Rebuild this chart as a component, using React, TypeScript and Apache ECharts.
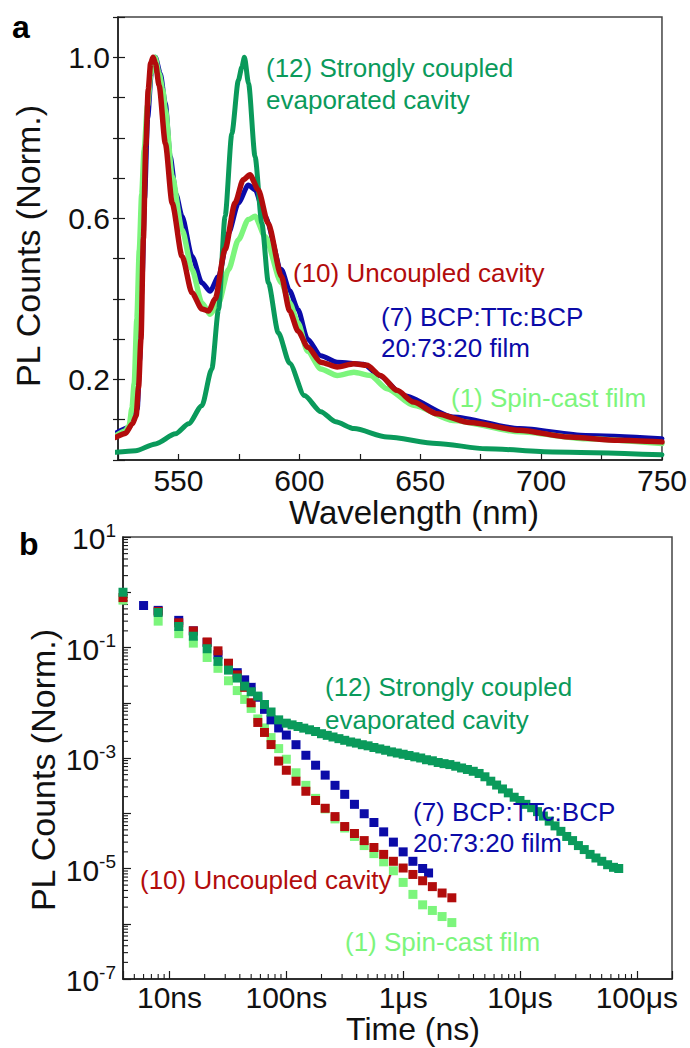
import React, { useEffect, useRef } from 'react';
import * as echarts from 'echarts';

// ---------- Panel a : PL spectra (wavelength nm, normalised counts) ----------
const SPEC_SPIN_CAST: [number, number][] = [
  [524, 0.06], [528, 0.072], [529.6, 0.085], [530.8, 0.13], [531.7, 0.19], [532.8, 0.35], [533.8, 0.52],
  [534.8, 0.66], [535.8, 0.77], [537.2, 0.88], [538.6, 0.96], [540.3, 1.0], [542, 0.96], [543.5, 0.92],
  [544.6, 0.869], [547.4, 0.704], [551.5, 0.572], [555.6, 0.473], [559.7, 0.39], [563.1, 0.362],
  [566.6, 0.39], [570.7, 0.473], [574.8, 0.547], [578.9, 0.597], [581.7, 0.605], [585.8, 0.555],
  [592.6, 0.44], [596, 0.39], [599.4, 0.341], [603.4, 0.27], [608.9, 0.226], [615.7, 0.21], [622.6, 0.218],
  [629.4, 0.21], [636.3, 0.177], [647.2, 0.136], [663.6, 0.098], [691, 0.07], [718.4, 0.053], [750, 0.041],
];
const SPEC_BCP_FILM: [number, number][] = [
  [524, 0.066], [529.6, 0.081], [531.5, 0.1], [533, 0.127], [534, 0.25], [535, 0.45], [536, 0.65],
  [537.3, 0.85], [538.8, 0.96], [540.5, 1.0], [542.5, 0.96], [544.6, 0.885], [546.6, 0.753], [549, 0.66],
  [551.5, 0.605], [555.6, 0.506], [559.7, 0.44], [563.1, 0.419], [566.6, 0.456], [570.7, 0.563],
  [574.8, 0.638], [578.9, 0.683], [581.7, 0.671], [585.8, 0.605], [592.6, 0.473], [596, 0.42],
  [599.4, 0.374], [603.4, 0.3], [608.9, 0.259], [615.7, 0.243], [626.6, 0.238], [633, 0.21], [643.1, 0.16],
  [663.6, 0.107], [691, 0.078], [718.4, 0.061], [750, 0.053],
];
const SPEC_STRONG: [number, number][] = [
  [524, 0.019], [532.3, 0.023], [540.5, 0.04], [548.8, 0.065], [554.2, 0.09], [559.7, 0.135], [563.8, 0.226],
  [566.6, 0.374], [569.3, 0.605], [572.1, 0.811], [574.8, 0.943], [576.2, 0.975], [577.3, 1.0], [579, 0.935],
  [581.7, 0.753], [584.5, 0.588], [587.2, 0.44], [591.3, 0.316], [596, 0.24], [602.1, 0.16], [608.9, 0.12],
  [615, 0.095], [622.6, 0.078], [636.3, 0.057], [656.8, 0.041], [677.4, 0.028], [704.8, 0.02], [750, 0.013],
];
const SPEC_UNCOUPLED: [number, number][] = [
  [524, 0.056], [528, 0.066], [531, 0.09], [532.5, 0.11], [533.5, 0.18], [534.5, 0.3], [535.5, 0.55],
  [536.5, 0.78], [537.5, 0.92], [538.5, 0.985], [539.5, 1.0], [540.5, 0.985], [542, 0.93], [544.6, 0.786],
  [547.4, 0.638], [551.5, 0.506], [555.6, 0.415], [559.7, 0.375], [562.5, 0.37], [565.2, 0.4], [569.3, 0.523],
  [573.4, 0.638], [576.8, 0.696], [579.6, 0.708], [583, 0.671], [587.1, 0.588], [592.6, 0.456], [596, 0.37],
  [599.5, 0.32], [603.5, 0.28], [608.9, 0.243], [615.7, 0.231], [622.6, 0.239], [628, 0.235], [633.5, 0.21],
  [640.4, 0.173], [647.2, 0.144], [656.8, 0.115], [670.5, 0.093], [691, 0.074], [711.6, 0.057], [732, 0.049],
  [750, 0.045],
];

// ---------- Panel b : PL decay (time ns, normalised counts) ----------
const DECAY_SPIN_CAST: [number, number][] = [
  [4, 0.72], [8, 0.3], [12, 0.178], [16, 0.12], [21, 0.066], [26, 0.042], [32, 0.025], [38, 0.0166],
  [44, 0.0115], [50, 0.0079], [57, 0.0051], [65, 0.0035], [74, 0.00234], [86, 0.00148], [100, 0.00095],
  [121, 0.00054], [147, 0.00032], [178, 0.000186], [215, 0.00012], [261, 7.9e-5], [316, 5.4e-5],
  [383, 3.8e-5], [464, 2.6e-5], [562, 1.86e-5], [681, 1.32e-5], [825, 9.1e-6], [1000, 5.6e-6],
  [1212, 3.4e-6], [1468, 2.2e-6], [1778, 1.74e-6], [2154, 1.35e-6], [2610, 1.05e-6],
];
const DECAY_BCP_FILM: [number, number][] = [
  [6, 0.575], [8, 0.47], [12, 0.31], [16, 0.2], [21, 0.123], [26, 0.074], [32, 0.048], [38, 0.035],
  [44, 0.026], [50, 0.019], [57, 0.0126], [65, 0.0076], [74, 0.0049], [86, 0.0035], [100, 0.0026],
  [121, 0.00174], [147, 0.00112], [178, 0.00074], [215, 0.00049], [261, 0.00032], [316, 0.00022],
  [383, 0.000145], [464, 9.8e-5], [562, 6.8e-5], [681, 4.6e-5], [825, 3.0e-5], [1000, 2.0e-5],
  [1212, 1.35e-5], [1468, 1.0e-5], [1650, 8.3e-6],
];
const DECAY_UNCOUPLED: [number, number][] = [
  [4, 0.8], [8, 0.45], [12, 0.28], [16, 0.2], [21, 0.126], [26, 0.087], [32, 0.052], [38, 0.032],
  [44, 0.019], [50, 0.01], [57, 0.0044], [65, 0.0029], [74, 0.00175], [86, 0.00088], [100, 0.0006],
  [121, 0.00038], [147, 0.00025], [178, 0.00017], [215, 0.000123], [261, 8.7e-5], [316, 5.75e-5],
  [383, 4.3e-5], [464, 3.2e-5], [562, 2.4e-5], [681, 1.8e-5], [825, 1.35e-5], [1000, 1.02e-5],
  [1212, 7.8e-6], [1468, 6.0e-6], [1778, 4.7e-6], [2154, 3.6e-6], [2610, 2.95e-6],
];
const DECAY_STRONG: [number, number][] = [
  [4, 1.0], [8, 0.43], [12, 0.24], [16, 0.16], [21, 0.095], [26, 0.056], [32, 0.039], [38, 0.028],
  [44, 0.02], [50, 0.0158], [57, 0.0132], [65, 0.0093], [74, 0.0068], [86, 0.0049],
  [100, 4.27e-3], [112, 3.98e-3], [126, 3.72e-3], [141, 3.47e-3], [158, 3.24e-3], [178, 3.02e-3],
  [200, 2.75e-3], [224, 2.57e-3], [251, 2.4e-3], [282, 2.24e-3], [316, 2.09e-3], [355, 1.95e-3],
  [398, 1.86e-3], [447, 1.74e-3], [501, 1.66e-3], [562, 1.55e-3], [631, 1.46e-3], [708, 1.38e-3],
  [794, 1.29e-3], [891, 1.23e-3], [1000, 1.17e-3], [1122, 1.11e-3], [1259, 1.05e-3], [1413, 1.0e-3],
  [1585, 9.3e-4], [1778, 8.9e-4], [1995, 8.3e-4], [2239, 7.9e-4], [2512, 7.6e-4], [2818, 7.1e-4],
  [3162, 6.6e-4], [3548, 6.2e-4], [3981, 5.75e-4], [4467, 5.25e-4], [5012, 4.57e-4], [5623, 3.8e-4],
  [6310, 3.24e-4], [7079, 2.75e-4], [7943, 2.34e-4], [8913, 1.95e-4], [10000, 1.7e-4], [11220, 1.45e-4],
  [12589, 1.26e-4], [14125, 1.07e-4], [15849, 8.9e-5], [17783, 7.2e-5], [19953, 5.9e-5], [22387, 4.7e-5],
  [25119, 3.8e-5], [28184, 3.2e-5], [31623, 2.6e-5], [35481, 2.2e-5], [39811, 1.8e-5], [44668, 1.55e-5],
  [50119, 1.35e-5], [56234, 1.17e-5], [63096, 1.05e-5], [70000, 1.0e-5],
];

// ---------- tick labels ----------
const TOP_Y_LABELS = [0.2, 0.6, 1.0];
const TOP_X_LABELS = [550, 600, 650, 700, 750];
const BOTTOM_X_LABELS: Record<number, string> = { 1: '10ns', 2: '100ns', 3: '1μs', 4: '10μs', 5: '100μs' };
const BOTTOM_Y_LABEL_EXPS = [1, -1, -3, -5, -7];

const FONT = "'Liberation Sans', Arial, Helvetica, sans-serif";
const C_DARK = '#0a9a5b';
const C_LIGHT = '#7cf57c';
const C_BLUE = '#0b0ba8';
const C_RED = '#b20c0c';
const AXC = '#1a1a1a';
const TICK_FONT = 30;

function minorTickValues(lo: number, hi: number, fromExp: number, toExp: number): number[] {
  const out: number[] = [];
  for (let e = fromExp; e <= toExp; e++) {
    for (let m = 2; m <= 9; m++) {
      const v = m * Math.pow(10, e);
      if (v > lo && v < hi) out.push(v);
    }
  }
  return out;
}

function txt(text: string, x: number, y: number, color: string, size: number, extra: any = {}) {
  return {
    type: 'text',
    x,
    y,
    silent: true,
    z: 100,
    ...extra,
    style: {
      text,
      fill: color,
      fontSize: size,
      fontFamily: FONT,
      fontWeight: extra.fontWeight || 'normal',
      align: extra.align || 'left',
      textAlign: extra.align || 'left',
      verticalAlign: 'middle',
      textVerticalAlign: 'middle',
    },
  };
}

export default function App() {
  const ref = useRef<HTMLDivElement>(null);
  useEffect(() => {
    document.body.style.margin = '0';
    const chart = echarts.init(ref.current!, undefined, { renderer: 'svg' });

    const X_MIN_B = 4;
    const X_MAX_B = 200000;
    const Y_MIN_B = 1e-7;
    const Y_MAX_B = 10;
    const xMinor = minorTickValues(X_MIN_B, X_MAX_B, 0, 5).map((t) => [t, Y_MIN_B]);
    const yMinor = minorTickValues(Y_MIN_B, Y_MAX_B, -7, 0).map((v) => [X_MIN_B, v]);

    const lineSeries = (name: string, data: [number, number][], color: string, width: number) => ({
      name,
      type: 'line',
      xAxisIndex: 0,
      yAxisIndex: 0,
      data,
      showSymbol: false,
      smooth: 0.25,
      smoothMonotone: 'x',
      lineStyle: { color, width, cap: 'round', join: 'round' },
      silent: true,
    });
    const scatterSeries = (name: string, data: [number, number][], color: string) => ({
      name,
      type: 'scatter',
      xAxisIndex: 1,
      yAxisIndex: 2,
      data,
      symbol: 'rect',
      symbolSize: 9,
      itemStyle: { color, opacity: 1 },
      silent: true,
    });

    const option: any = {
      animation: false,
      textStyle: { fontFamily: FONT },
      grid: [
        { left: 118, top: 17, width: 549, height: 443, show: true, borderColor: '#444', borderWidth: 1.5, backgroundColor: 'transparent' },
        { left: 123, top: 537, width: 549, height: 442, show: true, borderColor: '#444', borderWidth: 1.5, backgroundColor: 'transparent' },
      ],
      xAxis: [
        {
          gridIndex: 0,
          type: 'value',
          min: 525,
          max: 750,
          interval: 25,
          axisLine: { show: true, onZero: false, lineStyle: { color: AXC, width: 1.5 } },
          axisTick: { show: true, inside: true, length: 6, lineStyle: { color: AXC, width: 1.2 } },
          axisLabel: {
            fontSize: TICK_FONT,
            lineHeight: 24,
            color: '#111',
            margin: 8,
            fontFamily: FONT,
            formatter: (v: number) => (TOP_X_LABELS.some((l) => Math.abs(l - v) < 1e-6) ? String(Math.round(v)) : ''),
          },
          splitLine: { show: false },
        },
        {
          gridIndex: 1,
          type: 'log',
          logBase: 10,
          min: X_MIN_B,
          max: X_MAX_B,
          axisLine: { show: true, onZero: false, lineStyle: { color: AXC, width: 1.5 } },
          axisTick: { show: true, inside: true, length: 8, lineStyle: { color: AXC, width: 1.2 } },
          axisLabel: {
            fontSize: TICK_FONT,
            lineHeight: 24,
            color: '#111',
            margin: 6,
            fontFamily: FONT,
            formatter: (v: number) => {
              const e = Math.log10(v);
              const r = Math.round(e);
              if (Math.abs(e - r) > 1e-6) return '';
              return BOTTOM_X_LABELS[r] || '';
            },
          },
          splitLine: { show: false },
        },
      ],
      yAxis: [
        {
          gridIndex: 0,
          type: 'value',
          position: 'left',
          min: 0,
          max: 1.1,
          interval: 0.1,
          axisLine: { show: true, onZero: false, lineStyle: { color: AXC, width: 1.5 } },
          axisTick: { show: true, inside: true, length: 7, lineStyle: { color: AXC, width: 1.2 } },
          axisLabel: {
            fontSize: TICK_FONT,
            color: '#111',
            margin: 8,
            fontFamily: FONT,
            formatter: (v: number) => {
              const hit = TOP_Y_LABELS.find((l) => Math.abs(l - v) < 1e-6);
              return hit !== undefined ? hit.toFixed(1) : '';
            },
          },
          splitLine: { show: false },
        },
        {
          gridIndex: 0,
          type: 'value',
          position: 'left',
          offset: 0,
          min: 0,
          max: 1.1,
          interval: 0.1,
          axisLine: { show: false, onZero: false },
          axisTick: { show: true, inside: false, length: 5, lineStyle: { color: AXC, width: 1.2 } },
          axisLabel: { show: false },
          splitLine: { show: false },
        },
        {
          gridIndex: 1,
          type: 'log',
          logBase: 10,
          position: 'left',
          min: Y_MIN_B,
          max: Y_MAX_B,
          splitNumber: 8,
          axisLine: { show: true, onZero: false, lineStyle: { color: AXC, width: 1.5 } },
          axisTick: { show: true, inside: true, length: 8, lineStyle: { color: AXC, width: 1.2 } },
          axisLabel: {
            color: '#111',
            margin: 7,
            fontFamily: FONT,
            formatter: (v: number) => {
              const e = Math.log10(v);
              const r = Math.round(e);
              if (Math.abs(e - r) > 1e-6) return '';
              if (BOTTOM_Y_LABEL_EXPS.indexOf(r) < 0) return '';
              return '{b|10}{s|' + r + '}';
            },
            rich: {
              b: { fontSize: TICK_FONT, fontFamily: FONT, color: '#111', verticalAlign: 'bottom', lineHeight: 33 },
              s: { fontSize: 19, fontFamily: FONT, color: '#111', verticalAlign: 'top', lineHeight: 20 },
            },
          },
          splitLine: { show: false },
        },
      ],
      series: [
        lineSeries('(7) BCP:TTc:BCP 20:73:20 film', SPEC_BCP_FILM, C_BLUE, 5),
        lineSeries('(1) Spin-cast film', SPEC_SPIN_CAST, C_LIGHT, 5.5),
        lineSeries('(12) Strongly coupled evaporated cavity', SPEC_STRONG, C_DARK, 5),
        lineSeries('(10) Uncoupled cavity', SPEC_UNCOUPLED, C_RED, 5.5),
        scatterSeries('(1) Spin-cast film', DECAY_SPIN_CAST, C_LIGHT),
        scatterSeries('(7) BCP:TTc:BCP 20:73:20 film', DECAY_BCP_FILM, C_BLUE),
        scatterSeries('(10) Uncoupled cavity', DECAY_UNCOUPLED, C_RED),
        scatterSeries('(12) Strongly coupled evaporated cavity', DECAY_STRONG, C_DARK),
        {
          type: 'custom',
          xAxisIndex: 1,
          yAxisIndex: 2,
          silent: true,
          data: xMinor,
          renderItem: (_p: any, api: any) => {
            const p = api.coord([api.value(0), api.value(1)]);
            return { type: 'line', shape: { x1: p[0], y1: p[1], x2: p[0], y2: p[1] - 5 }, style: { stroke: AXC, lineWidth: 1.1 } };
          },
        },
        {
          type: 'custom',
          xAxisIndex: 1,
          yAxisIndex: 2,
          silent: true,
          data: yMinor,
          renderItem: (_p: any, api: any) => {
            const p = api.coord([api.value(0), api.value(1)]);
            return { type: 'line', shape: { x1: p[0], y1: p[1], x2: p[0] + 5, y2: p[1] }, style: { stroke: AXC, lineWidth: 1.1 } };
          },
        },
      ],
      graphic: [
        txt('a', 12, 27, '#000', 32, { fontWeight: 'bold' }),
        txt('b', 19, 544, '#000', 32, { fontWeight: 'bold' }),
        txt('PL Counts (Norm.)', 28, 246, '#111', 34, { rotation: Math.PI / 2, align: 'center' }),
        txt('Wavelength (nm)', 414, 512, '#111', 33, { align: 'center' }),
        txt('PL Counts (Norm.)', 43, 770, '#111', 34, { rotation: Math.PI / 2, align: 'center' }),
        txt('Time (ns)', 413, 1029, '#111', 32, { align: 'center' }),
        // panel a annotations
        txt('(12) Strongly coupled', 266, 68, C_DARK, 26),
        txt('evaporated cavity', 266, 100, C_DARK, 26),
        txt('(10) Uncoupled cavity', 293, 273, C_RED, 26),
        txt('(7) BCP:TTc:BCP', 381, 317, C_BLUE, 26),
        txt('20:73:20 film', 381, 348, C_BLUE, 26),
        txt('(1) Spin-cast film', 451, 398, C_LIGHT, 26),
        // panel b annotations
        txt('(12) Strongly coupled', 325, 687, C_DARK, 26),
        txt('evaporated cavity', 325, 720, C_DARK, 26),
        txt('(7) BCP:TTc:BCP', 413, 812, C_BLUE, 26),
        txt('20:73:20 film', 413, 843, C_BLUE, 26),
        txt('(10) Uncoupled cavity', 140, 880, C_RED, 26),
        txt('(1) Spin-cast film', 345, 942, C_LIGHT, 26),
      ],
    };

    chart.setOption(option);
    return () => chart.dispose();
  }, []);
  return <div ref={ref} style={{ width: 690, height: 1048 }} />;
}
